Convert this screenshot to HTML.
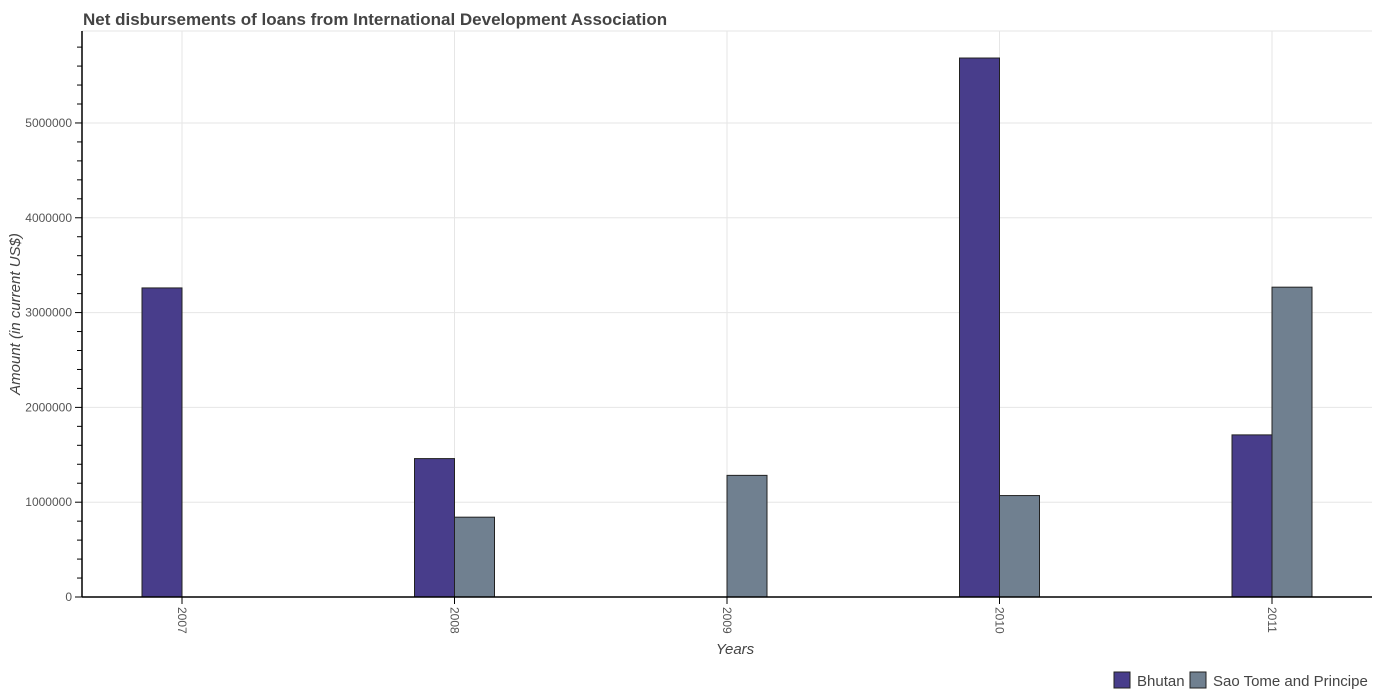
<!DOCTYPE html>
<html><head><meta charset="utf-8"><style>
body{margin:0;background:#fff;font-family:"Liberation Sans",sans-serif}
svg{display:block}
</style></head><body>
<svg id="chart" width="1377" height="700">
<text x="83" y="25" font-size="17" font-weight="bold" fill="#444">Net disbursements of loans from International Development Association</text>
<g id="grid"></g><g id="bars"></g><g id="axes"></g>
<text x="735" y="654" font-size="15" font-style="italic" fill="#444" text-anchor="middle">Years</text>
<text transform="translate(20,314) rotate(-90)" font-size="15" font-style="italic" fill="#444" text-anchor="middle">Amount (in current US$)</text>
<g>
<rect x="1114" y="672" width="16" height="16" fill="#483d8b" stroke="#222"/>
<text x="1137" y="686" font-size="15" fill="#444">Bhutan</text>
<rect x="1190" y="672" width="16" height="16" fill="#708090" stroke="#222"/>
<text x="1213" y="686" font-size="15" fill="#444">Sao Tome and Principe</text>
</g>
</svg>
<script>
const categories=["2007","2008","2009","2010","2011"];
const bhutan=[3260000,1460000,0,5685000,1710000];
const saoTome=[0,842000,1283000,1070000,3268000];
const yTicks=[0,1000000,2000000,3000000,4000000,5000000];
const NS="http://www.w3.org/2000/svg";
const L=82,R=1372,T=31,B=597,YMAX=5970000;
const xs=i=>182+i*272.5;
const ys=v=>B-(v/YMAX)*(B-T);
function mk(tag,attrs,parent){const e=document.createElementNS(NS,tag);for(const k in attrs)e.setAttribute(k,attrs[k]);parent.appendChild(e);return e;}
const grid=document.getElementById('grid'),bars=document.getElementById('bars'),axes=document.getElementById('axes');
mk('line',{x1:L,y1:T,x2:R,y2:T,stroke:'#e6e6e6'},grid);
yTicks.forEach(v=>{const g=mk('line',{x1:L,y1:ys(v),x2:R,y2:ys(v),stroke:'#e6e6e6'},grid);


const t=mk('text',{x:L-10,y:ys(v)+4,'font-size':12,fill:'#555','text-anchor':'end'},axes);t.textContent=v;


mk('line',{x1:L-7,y1:ys(v),x2:L,y2:ys(v),stroke:'#000'},axes);});
for(let v=200000;v<YMAX;v+=200000){if(v%1000000)mk('line',{x1:L-5,y1:ys(v),x2:L,y2:ys(v),stroke:'#000'},axes);}
categories.forEach((c,i)=>{const x=xs(i);
const g=mk('line',{x1:x,y1:T,x2:x,y2:B,stroke:'#e6e6e6'},grid);


const b=mk('rect',{x:x-40,y:ys(bhutan[i]),width:40,height:B-ys(bhutan[i]),fill:'#483d8b',stroke:'#222'},bars);


const s=mk('rect',{x:x,y:ys(saoTome[i]),width:40,height:B-ys(saoTome[i]),fill:'#708090',stroke:'#222'},bars);


mk('line',{x1:x,y1:B,x2:x,y2:B+7,stroke:'#000'},axes);
const t=mk('text',{transform:`translate(${x-4},${B+10}) rotate(90)`,'font-size':12,fill:'#555'},axes);t.textContent=c;

});
mk('line',{x1:L,y1:T,x2:L,y2:B,stroke:'#000','stroke-width':1.5},axes);
mk('line',{x1:L,y1:B,x2:R,y2:B,stroke:'#000','stroke-width':1.5},axes);
</script>
</body></html>
